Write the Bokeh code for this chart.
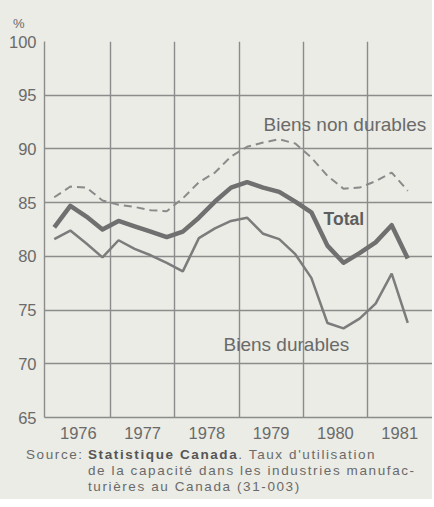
from bokeh.plotting import figure
from bokeh.models import FixedTicker, Label, Range1d, Div
from bokeh.layouts import column
from bokeh.embed import file_html
from bokeh.resources import INLINE

# Quarterly data, 1976 Q1 .. 1981 Q3
years = [1976, 1977, 1978, 1979, 1980, 1981]
n_quarters = 23
total = [82.7, 84.7, 83.7, 82.5, 83.3, 82.8, 82.3, 81.8, 82.3, 83.6, 85.1, 86.4,
         86.9, 86.4, 86.0, 85.1, 84.1, 81.0, 79.4, 80.3, 81.3, 82.9, 79.8]
durables = [81.6, 82.4, 81.2, 79.9, 81.5, 80.7, 80.1, 79.4, 78.6, 81.7, 82.6, 83.3,
            83.6, 82.1, 81.6, 80.2, 78.0, 73.8, 73.3, 74.2, 75.6, 78.4, 73.8]
non_durables = [85.5, 86.5, 86.4, 85.2, 84.8, 84.6, 84.3, 84.2, 85.4, 86.9, 87.8, 89.3,
                90.2, 90.6, 90.9, 90.5, 89.2, 87.5, 86.3, 86.4, 87.0, 87.8, 86.1]
y_ticks = [65, 70, 75, 80, 85, 90, 95, 100]

x = [years[0] + (i + 0.5) / 4 for i in range(n_quarters)]

BG = "#eaece5"
TXT = "#6a6a6a"
GRID = "#8c8c8c"
W = 432

# ---- top strip with the unit ----
top = Div(
    text=(f'<div style="font-family:\'Liberation Sans\';font-size:13px;color:{TXT};'
          f'line-height:13px;height:30px;padding:17px 0 0 13px;box-sizing:border-box;'
          f'background:{BG};width:{W}px">%</div>'),
    width=W, height=30, styles={"background-color": BG, "margin": "0"})

# ---- main chart ----
p = figure(width=W, height=417, x_range=Range1d(1975.973, 1982.01),
           y_range=Range1d(65, 100), output_backend="svg", toolbar_location=None,
           min_border_left=44, min_border_right=0, min_border_top=11,
           min_border_bottom=30, background_fill_color=BG, border_fill_color=BG,
           outline_line_color=None)

p.xgrid.ticker = FixedTicker(ticks=years[1:])
p.ygrid.ticker = FixedTicker(ticks=y_ticks)
for g in (p.xgrid, p.ygrid):
    g.grid_line_color = GRID
    g.grid_line_width = 1.4

p.yaxis.ticker = FixedTicker(ticks=y_ticks)
p.xaxis.ticker = FixedTicker(ticks=[yr + 0.5 for yr in years])
p.xaxis.major_label_overrides = {yr + 0.5: str(yr) for yr in years}
for ax in (p.xaxis, p.yaxis):
    ax.axis_line_color = GRID
    ax.axis_line_width = 1.4
    ax.major_tick_out = 0
    ax.major_tick_in = 0
    ax.minor_tick_out = 0
    ax.minor_tick_in = 0
    ax.major_tick_line_color = None
    ax.minor_tick_line_color = None
    ax.major_label_text_color = TXT
    ax.major_label_text_font = "Liberation Sans"
    ax.major_label_text_font_size = "16.5px"
p.yaxis.major_label_standoff = 8
p.xaxis.major_label_standoff = 9

p.line(x, non_durables, line_color="#8a8a8a", line_width=2, line_dash="8 5")
p.line(x, durables, line_color="#7c7c7c", line_width=2.5)
p.line(x, total, line_color="#707070", line_width=4.5, line_join="round")

p.add_layout(Label(x=1979.381, y=92.32, text="Biens non durables", text_color=TXT,
                   text_font="Liberation Sans", text_font_size="19px",
                   text_baseline="middle"))
p.add_layout(Label(x=1980.315, y=83.52, text="Total", text_color="#5e5e5e",
                   text_font="Liberation Sans", text_font_style="bold",
                   text_font_size="17.5px", text_baseline="middle"))
p.add_layout(Label(x=1978.759, y=71.84, text="Biens durables", text_color=TXT,
                   text_font="Liberation Sans", text_font_size="19px",
                   text_baseline="middle"))

# ---- bottom strip with the source ----
src_label = "Source:"
src_org = "Statistique Canada"
src_rest = [". Taux d'utilisation",
            "de la capacité dans les industries manufac-",
            "turières au Canada (31-003)"]
src_html = (
    f'<div style="display:flex;font-family:\'Liberation Sans\';font-size:13.5px;line-height:16px;'
    f'letter-spacing:1.6px;color:{TXT};background:{BG};width:{W}px;height:52px;'
    f'padding-top:0;box-sizing:border-box">'
    f'<div style="width:88px;padding-left:26px;box-sizing:border-box;flex:none;white-space:nowrap">{src_label}</div>'
    f'<div style="white-space:nowrap"><b style="color:#555">{src_org}</b>{src_rest[0]}<br>'
    f'{src_rest[1]}<br>{src_rest[2]}</div></div>'
)
bot = Div(text=src_html, width=W, height=52, styles={"background-color": BG, "margin": "0"})

layout = column(top, p, bot, spacing=0, styles={"background-color": BG})
open("out.html", "w").write(file_html(layout, INLINE))
